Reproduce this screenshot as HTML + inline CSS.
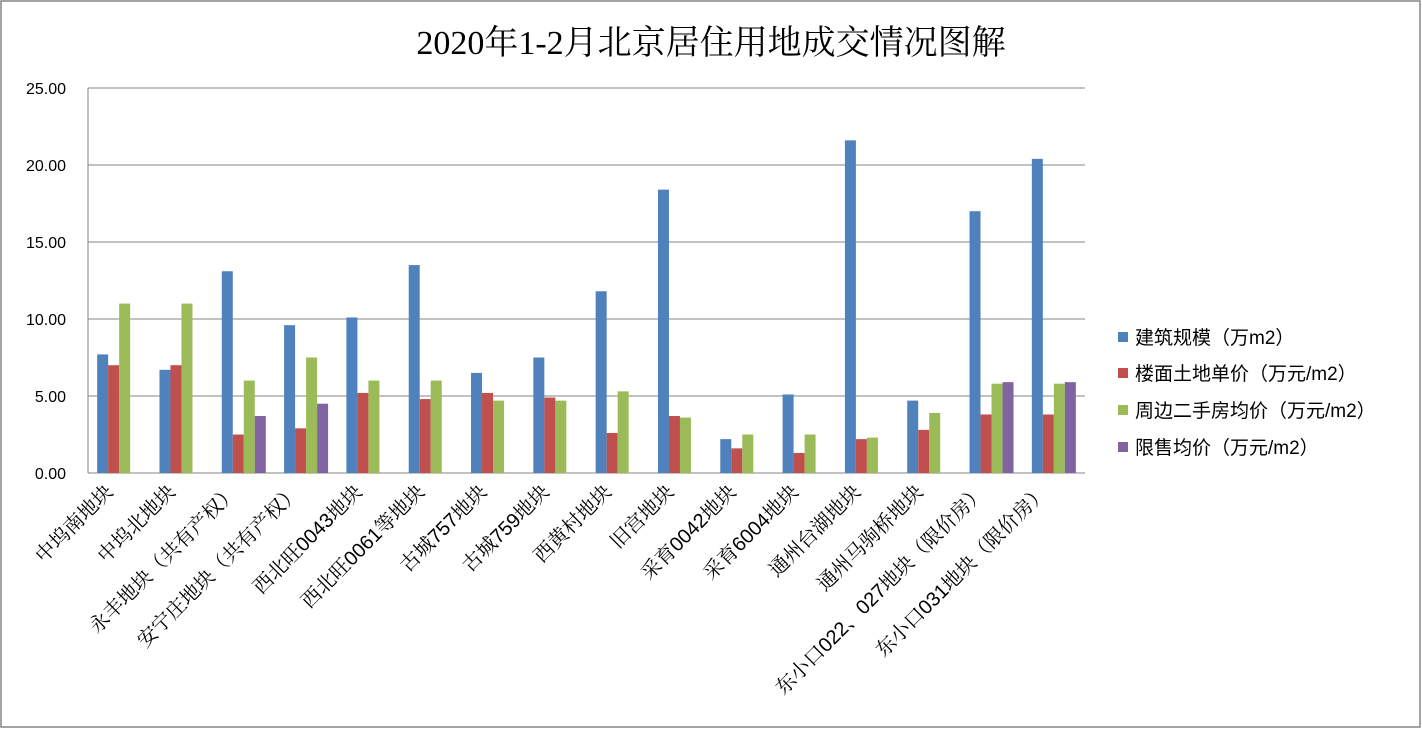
<!DOCTYPE html>
<html><head><meta charset="utf-8"><style>
body{margin:0;background:#fff;}
svg{display:block;font-family:"Liberation Sans","Noto Sans CJK SC",sans-serif;}
</style></head><body>
<svg id="chart" width="1422" height="729">
<rect x="1" y="1" width="1419" height="726" fill="#fff" stroke="#868686" stroke-width="1.5"/>
<text x="711" y="54" text-anchor="middle" font-size="34" font-family="'Liberation Serif','Noto Serif CJK SC',serif">2020年1-2月北京居住用地成交情况图解</text>
<g id="grid"></g><g id="bars"></g><g id="axes"></g><g id="legend"></g>
</svg>
<script>
const categories=["中坞南地块","中坞北地块","永丰地块（共有产权）","安宁庄地块（共有产权）","西北旺0043地块","西北旺0061等地块","古城757地块","古城759地块","西黄村地块","旧宫地块","采育0042地块","采育6004地块","通州台湖地块","通州马驹桥地块","东小口022、027地块（限价房）","东小口031地块（限价房）"];
const seriesNames=["建筑规模（万m2）","楼面土地单价（万元/m2）","周边二手房均价（万元/m2）","限售均价（万元/m2）"];
const scaleValues=[7.7,6.7,13.1,9.6,10.1,13.5,6.5,7.5,11.8,18.4,2.2,5.1,21.6,4.7,17.0,20.4];
const landPrice=[7.0,7.0,2.5,2.9,5.2,4.8,5.2,4.9,2.6,3.7,1.6,1.3,2.2,2.8,3.8,3.8];
const nearbyPrice=[11.0,11.0,6.0,7.5,6.0,6.0,4.7,4.7,5.3,3.6,2.5,2.5,2.3,3.9,5.8,5.8];
const limitPrice=[null,null,3.7,4.5,null,null,null,null,null,null,null,null,null,null,5.9,5.9];
const yTicks=[0,5,10,15,20,25];
const yTickLabels=["0.00","5.00","10.00","15.00","20.00","25.00"];
const colors=["#4f81bd","#c0504d","#9bbb59","#8064a2"];
const NS="http://www.w3.org/2000/svg";
const X0=88,X1=1085,Y0=473,Y1=88,YMAX=25;
const y=v=>Y0-(v/YMAX)*(Y0-Y1);
const cw=(X1-X0)/categories.length;
const xc=i=>X0+cw*(i+0.5);
function mk(tag,attrs,parent){const e=document.createElementNS(NS,tag);for(const k in attrs)e.setAttribute(k,attrs[k]);parent.appendChild(e);return e;}
const grid=document.getElementById('grid'),bars=document.getElementById('bars'),axes=document.getElementById('axes'),legend=document.getElementById('legend');
yTicks.forEach((t,i)=>{
  const l=mk('line',{x1:X0,x2:X1,y1:y(t),y2:y(t),stroke:'#868686','stroke-width':1},grid);
  
  
  const tx=mk('text',{x:66,y:y(t)+6,'text-anchor':'end','font-size':16},axes);
  tx.textContent=yTickLabels[i];
  
  
});
const ax=mk('line',{x1:X0,x2:X0,y1:Y1,y2:Y0,stroke:'#868686'},axes);


const series=[scaleValues,landPrice,nearbyPrice,limitPrice];
const bw=11;
categories.forEach((c,i)=>{
  const start=xc(i)-22;
  series.forEach((s,j)=>{
    if(s[i]==null)return;
    const r=mk('rect',{x:start+j*bw,y:y(s[i]),width:bw,height:Y0-y(s[i]),fill:colors[j]},bars);
    
    
  });
  const lx=xc(i)-5, lyy=Y0+20;
  const t=mk('text',{x:lx,y:lyy,'text-anchor':'end','font-size':20,'font-family':"'Liberation Sans','Noto Serif CJK SC',serif",transform:`rotate(-45 ${lx} ${lyy})`},axes);
  t.textContent=c;
  
  
});
const ly=[337,373,410,447];
seriesNames.forEach((n,j)=>{
  const r=mk('rect',{x:1118,y:ly[j]-5,width:10,height:10,fill:colors[j]},legend);
  
  
  const t=mk('text',{x:1135,y:ly[j]+7,'font-size':19},legend);
  t.textContent=n;
  
  
});
</script>
</body></html>
